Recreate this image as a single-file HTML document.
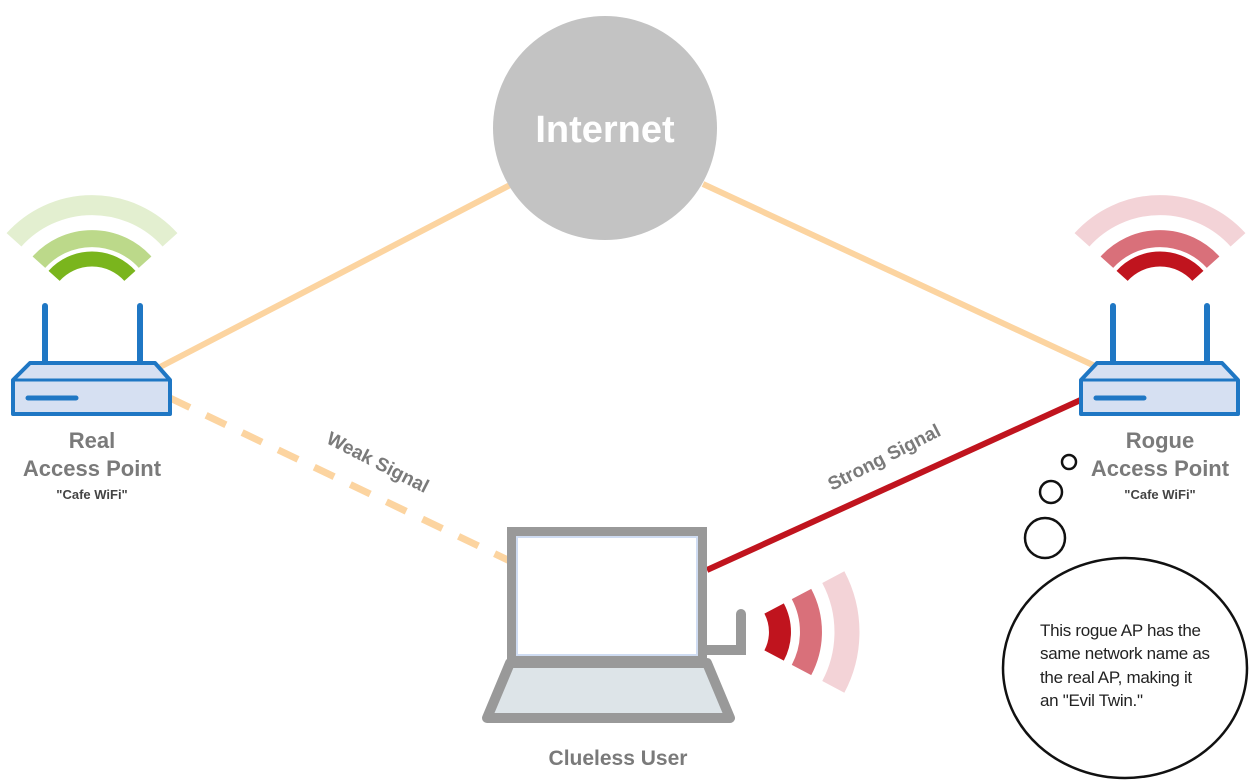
<!DOCTYPE html>
<html><head><meta charset="utf-8"><style>
html,body{margin:0;padding:0;background:#fff;}
svg{display:block;}
text{font-family:"Liberation Sans",sans-serif;}
</style></head><body>
<svg width="1250" height="783" viewBox="0 0 1250 783" xmlns="http://www.w3.org/2000/svg">
<line x1="160" y1="367" x2="512" y2="184" stroke="#fcd4a0" stroke-width="6"/>
<line x1="703" y1="184" x2="1095" y2="366" stroke="#fcd4a0" stroke-width="6"/>
<line x1="170" y1="398" x2="512" y2="562" stroke="#fcd4a0" stroke-width="7" stroke-dasharray="22,18"/>
<line x1="707" y1="570" x2="1085" y2="398" stroke="#c0141e" stroke-width="6"/>

<circle cx="605" cy="128" r="112" fill="#c3c3c3"/>
<text x="605" y="142" text-anchor="middle" font-size="38" font-weight="bold" fill="#fff">Internet</text>

<g fill="none" stroke-linecap="butt">
<path d="M14,239.8 A105,105 0 0 1 170,239.8" stroke="#e3efd0" stroke-width="20"/>
<path d="M38.9,262.2 A71.5,71.5 0 0 1 145.1,262.2" stroke="#bcd98a" stroke-width="17"/>
<path d="M54.1,275.9 A51,51 0 0 1 129.9,275.9" stroke="#7ab51d" stroke-width="15"/>
<path d="M1082,239.8 A105,105 0 0 1 1238,239.8" stroke="#f3d3d7" stroke-width="20"/>
<path d="M1106.9,262.2 A71.5,71.5 0 0 1 1213.1,262.2" stroke="#d9707a" stroke-width="17"/>
<path d="M1122.1,275.9 A51,51 0 0 1 1197.9,275.9" stroke="#c0141e" stroke-width="15"/>
</g>

<g stroke="#1f77c4" stroke-linecap="round">
<line x1="45" y1="306" x2="45" y2="364" stroke-width="6"/>
<line x1="140" y1="306" x2="140" y2="364" stroke-width="6"/>
<path d="M30,363 H155 L170,380 V414 H13 V380 Z" fill="#d6e0f2" stroke-width="4" stroke-linejoin="round"/>
<line x1="13" y1="380" x2="170" y2="380" stroke-width="3"/>
<line x1="28" y1="398" x2="76" y2="398" stroke-width="5"/>
<line x1="1113" y1="306" x2="1113" y2="364" stroke-width="6"/>
<line x1="1207" y1="306" x2="1207" y2="364" stroke-width="6"/>
<path d="M1097,363 H1222 L1238,380 V414 H1081 V380 Z" fill="#d6e0f2" stroke-width="4" stroke-linejoin="round"/>
<line x1="1081" y1="380" x2="1238" y2="380" stroke-width="3"/>
<line x1="1096" y1="398" x2="1144" y2="398" stroke-width="5"/>
</g>

<g fill="#7a7a7a" font-weight="bold" text-anchor="middle">
<text x="92" y="448" font-size="22">Real</text>
<text x="92" y="476" font-size="22">Access Point</text>
<text x="92" y="499" font-size="13" fill="#444">"Cafe WiFi"</text>
<text x="1160" y="448" font-size="22">Rogue</text>
<text x="1160" y="476" font-size="22">Access Point</text>
<text x="1160" y="499" font-size="13" fill="#444">"Cafe WiFi"</text>
<text x="618" y="765" font-size="21">Clueless User</text>
<text transform="translate(375,468) rotate(27)" font-size="19">Weak Signal</text>
<text transform="translate(887,463) rotate(-27)" font-size="19">Strong Signal</text>
</g>

<path d="M510,663 H707 L730,718 H487 Z" fill="#dde4e8" stroke="#999" stroke-width="10" stroke-linejoin="round"/>
<rect x="512" y="532" width="190" height="128" fill="#fff" stroke="#999" stroke-width="10"/>
<rect x="517" y="537" width="180" height="118" fill="none" stroke="#cfdcf2" stroke-width="2"/>
<path d="M707,650 H741 V614" fill="none" stroke="#999" stroke-width="10" stroke-linecap="round"/>
<g fill="none">
<path d="M774.1,608.5 A50,50 0 0 1 774.1,655.5" stroke="#c0141e" stroke-width="22"/>
<path d="M801.5,594 A81,81 0 0 1 801.5,670" stroke="#d9707a" stroke-width="22"/>
<path d="M833.3,577.1 A117,117 0 0 1 833.3,686.9" stroke="#f3d3d7" stroke-width="25"/>
</g>

<g fill="none" stroke="#111" stroke-width="2.5">
<circle cx="1069" cy="462" r="7"/>
<circle cx="1051" cy="492" r="11"/>
<circle cx="1045" cy="538" r="20"/>
<ellipse cx="1125" cy="668" rx="122" ry="110"/>
</g>
<g font-size="17" fill="#222" letter-spacing="-0.3">
<text x="1040" y="636">This rogue AP has the</text>
<text x="1040" y="659">same network name as</text>
<text x="1040" y="683">the real AP, making it</text>
<text x="1040" y="706">an "Evil Twin."</text>
</g>
</svg>
</body></html>
